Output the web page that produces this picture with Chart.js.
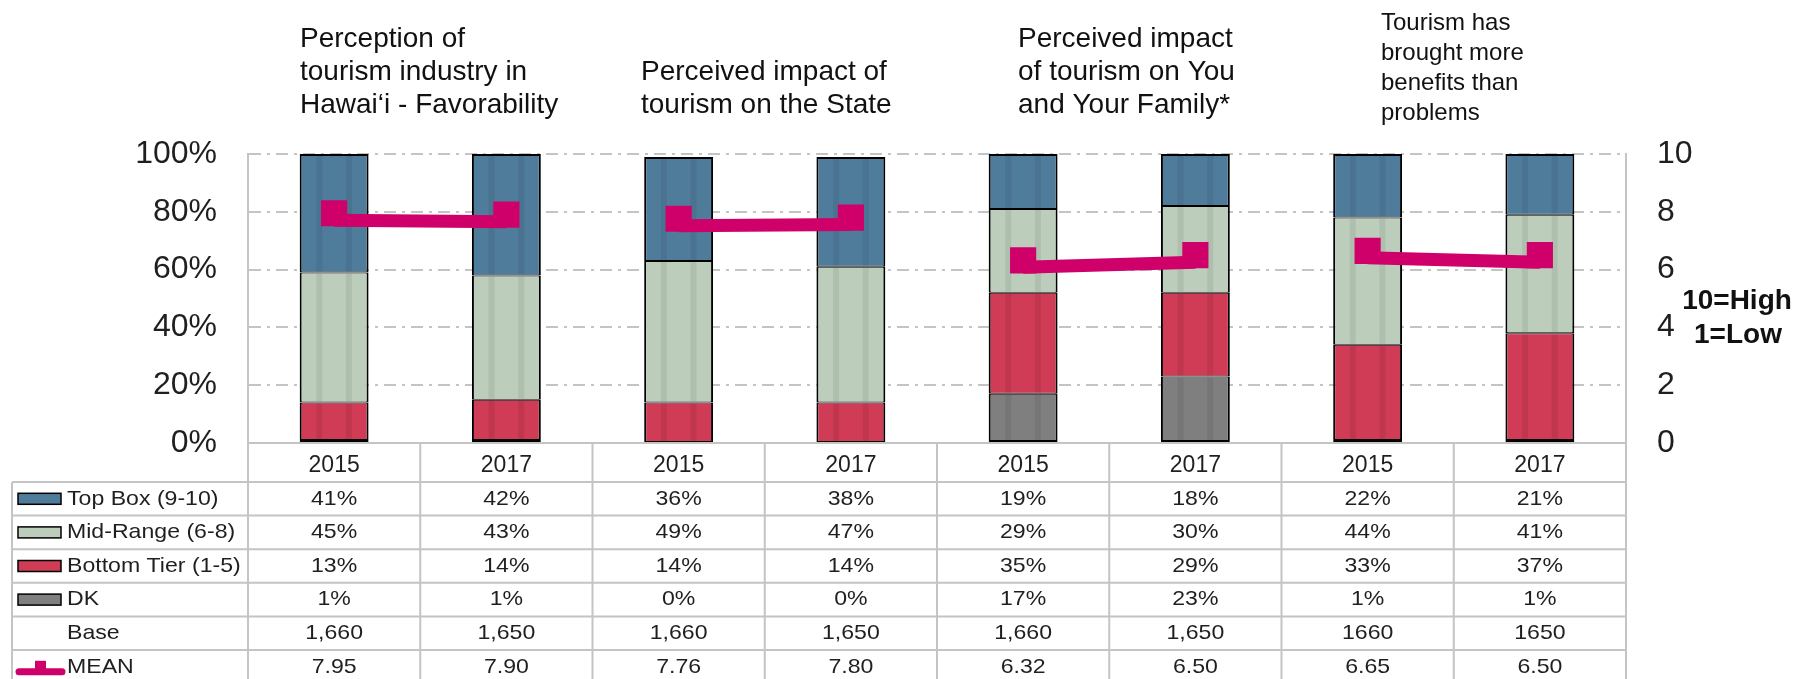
<!DOCTYPE html>
<html>
<head>
<meta charset="utf-8">
<title>Perception of tourism in Hawai'i</title>
<script src="https://cdn.jsdelivr.net/npm/chart.js@4.4.1/dist/chart.umd.min.js"></script>
<style>
  html, body { margin: 0; padding: 0; background: #fff; }
  #wrap { width: 1804px; height: 679px; }
</style>
</head>
<body>
<div id="wrap"><canvas id="tourismChart" width="1804" height="679"></canvas></div>
<script>
// categories (two survey years for each question)
const years = ['2015', '2017', '2015', '2017', '2015', '2017', '2015', '2017'];

// question titles, one per pair of bars
const questions = [
  ['Perception of', 'tourism industry in', 'Hawai\u2018i - Favorability'],
  ['Perceived impact of', 'tourism on the State'],
  ['Perceived impact', 'of tourism on You', 'and Your Family*'],
  ['Tourism has', 'brought more', 'benefits than', 'problems']
];

// shares in percent
const topBox     = [41, 42, 36, 38, 19, 18, 22, 21];
const midRange   = [45, 43, 49, 47, 29, 30, 44, 41];
const bottomTier = [13, 14, 14, 14, 35, 29, 33, 37];
const dontKnow   = [1, 1, 0, 0, 17, 23, 1, 1];

// sample sizes, as printed
const base = ['1,660', '1,650', '1,660', '1,650', '1,660', '1,650', '1660', '1650'];

// mean score on a 1-10 scale
const mean = [7.95, 7.90, 7.76, 7.80, 6.32, 6.50, 6.65, 6.50];

// axis ticks
const pctTicks = [0, 20, 40, 60, 80, 100];
const scoreTicks = [0, 2, 4, 6, 8, 10];

const FONT = "'Liberation Sans', Arial, sans-serif";
const INK = '#1f1f1f';
const GRID = '#c4c4c4';
const C_TOP = '#4f7c9b';
const C_MID = '#bccebb';
const C_BOT = '#d03b56';
const C_DK = '#7f7f7f';
const C_MEAN = '#cf006a';

// where the titles sit above the plot
const titleLayout = [
  { x: 300, y: 47, step: 33, size: 28 },
  { x: 641, y: 80, step: 33, size: 28 },
  { x: 1018, y: 47, step: 33, size: 28 },
  { x: 1381, y: 30, step: 30, size: 24 }
];

const TABLE_LEFT = 12;
const HEAD_H = 39;
const ROW_H = 33.6;
const TABLE_STRETCH = 1.1; // the table text in the original is slightly wide

function barSet(label, data, color, edge) {
  return {
    type: 'bar',
    label: label,
    data: data,
    backgroundColor: color,
    borderColor: '#000',
    borderWidth: Object.assign({ left: 2, right: 2, top: 1, bottom: 1 }, edge || {}),
    borderSkipped: false,
    yAxisID: 'y',
    stack: 'share',
    order: 10,
    barPercentage: 0.4,
    categoryPercentage: 1
  };
}

function wideText(ctx, text, x, y) {
  ctx.save();
  ctx.translate(x, y);
  ctx.scale(TABLE_STRETCH, 1);
  ctx.fillText(text, 0, 0);
  ctx.restore();
}

// faint vertical bands on every bar segment
const barStripes = {
  id: 'barStripes',
  afterDatasetDraw(chart, args) {
    const ds = chart.data.datasets[args.index];
    if (ds.type !== 'bar') return;
    const ctx = chart.ctx;
    ctx.save();
    ctx.fillStyle = 'rgba(0,0,0,0.07)';
    args.meta.data.forEach(bar => {
      const p = bar.getProps(['x', 'y', 'base', 'width'], true);
      const h = Math.abs(p.base - p.y);
      if (h < 4) return;
      const top = Math.min(p.y, p.base) + 1;
      [-0.215, 0.215].forEach(f => {
        ctx.fillRect(p.x + f * p.width - 3, top, 6, h - 2);
      });
    });
    ctx.restore();
  }
};

// the mean line sits a little below its markers in the original
const meanShift = {
  id: 'meanShift',
  beforeDatasetDraw(chart, args) {
    if (chart.data.datasets[args.index].label === 'MEAN line') {
      chart.ctx.save();
      chart.ctx.translate(0, 7);
    }
  },
  afterDatasetDraw(chart, args) {
    if (chart.data.datasets[args.index].label === 'MEAN line') chart.ctx.restore();
  }
};

// titles over each pair and the scale note on the right
const headings = {
  id: 'headings',
  afterDraw(chart) {
    const ctx = chart.ctx;
    ctx.save();
    ctx.fillStyle = '#111';
    ctx.textAlign = 'left';
    ctx.textBaseline = 'alphabetic';
    questions.forEach((lines, i) => {
      const t = titleLayout[i];
      ctx.font = t.size + 'px ' + FONT;
      lines.forEach((line, j) => ctx.fillText(line, t.x, t.y + j * t.step));
    });
    ctx.font = 'bold 28px ' + FONT;
    ctx.textAlign = 'center';
    ctx.fillText('10=High', 1737, 309);
    ctx.fillText('1=Low', 1738, 343);
    ctx.restore();
  }
};

// data table under the plot, columns taken from the x scale
const dataTable = {
  id: 'dataTable',
  afterDraw(chart) {
    const ctx = chart.ctx;
    const area = chart.chartArea;
    const x = chart.scales.x;
    const centers = years.map((_, i) => x.getPixelForValue(i));
    const rows = [
      { label: 'Top Box (9-10)', values: topBox.map(v => v + '%'), key: C_TOP },
      { label: 'Mid-Range (6-8)', values: midRange.map(v => v + '%'), key: C_MID },
      { label: 'Bottom Tier (1-5)', values: bottomTier.map(v => v + '%'), key: C_BOT },
      { label: 'DK', values: dontKnow.map(v => v + '%'), key: C_DK },
      { label: 'Base', values: base },
      { label: 'MEAN', values: mean.map(v => v.toFixed(2)), mean: true }
    ];
    const top = area.bottom;
    const headBottom = top + HEAD_H;
    const bottom = headBottom + rows.length * ROW_H;

    ctx.save();
    ctx.strokeStyle = GRID;
    ctx.lineWidth = 2;
    ctx.beginPath();
    const edges = [area.left];
    for (let i = 0; i < centers.length - 1; i++) edges.push((centers[i] + centers[i + 1]) / 2);
    edges.push(area.right);
    edges.forEach(ex => { ctx.moveTo(ex, top); ctx.lineTo(ex, bottom); });
    ctx.moveTo(TABLE_LEFT, headBottom);
    ctx.lineTo(TABLE_LEFT, bottom);
    for (let r = 0; r <= rows.length; r++) {
      const yy = headBottom + r * ROW_H;
      ctx.moveTo(TABLE_LEFT, yy);
      ctx.lineTo(area.right, yy);
    }
    ctx.stroke();

    ctx.font = '21px ' + FONT;
    ctx.textBaseline = 'middle';
    rows.forEach((row, r) => {
      const cy = headBottom + r * ROW_H + ROW_H / 2;
      ctx.fillStyle = INK;
      ctx.textAlign = 'left';
      wideText(ctx, row.label, 67, cy);
      ctx.textAlign = 'center';
      row.values.forEach((v, i) => wideText(ctx, v, centers[i], cy));

      if (row.key) {
        ctx.fillStyle = row.key;
        ctx.fillRect(18, cy - 5.5, 43, 11);
        ctx.strokeStyle = '#000';
        ctx.lineWidth = 1.5;
        ctx.strokeRect(18, cy - 5.5, 43, 11);
      }
      if (row.mean) {
        ctx.strokeStyle = C_MEAN;
        ctx.lineWidth = 7;
        ctx.lineCap = 'round';
        ctx.beginPath();
        ctx.moveTo(19, cy + 5);
        ctx.lineTo(62, cy + 5);
        ctx.stroke();
        ctx.fillStyle = C_MEAN;
        ctx.fillRect(35, cy - 6, 11, 12);
      }
    });
    ctx.restore();
  }
};

const ctx = document.getElementById('tourismChart').getContext('2d');

new Chart(ctx, {
  data: {
    labels: years,
    datasets: [
      barSet('DK', dontKnow, C_DK, { bottom: 2 }),
      barSet('Bottom Tier (1-5)', bottomTier, C_BOT),
      barSet('Mid-Range (6-8)', midRange, C_MID),
      barSet('Top Box (9-10)', topBox, C_TOP, { top: 2 }),
      {
        type: 'line',
        label: 'MEAN line',
        data: mean,
        yAxisID: 'y1',
        borderColor: C_MEAN,
        borderWidth: 13,
        pointRadius: 0,
        fill: false,
        tension: 0,
        order: 2,
        // only join the two years of the same question
        segment: { borderColor: c => (c.p0DataIndex % 2 ? 'transparent' : C_MEAN) }
      },
      {
        type: 'line',
        label: 'MEAN',
        data: mean,
        yAxisID: 'y1',
        showLine: false,
        pointStyle: 'rect',
        pointRadius: 18.5,
        pointBorderWidth: 0,
        pointBackgroundColor: C_MEAN,
        order: 1
      }
    ]
  },
  options: {
    responsive: false,
    animation: false,
    layout: { padding: { top: 154, left: 0, right: 0, bottom: 0 } },
    plugins: {
      legend: { display: false },
      tooltip: { enabled: false }
    },
    scales: {
      x: {
        stacked: true,
        grid: { display: false },
        border: { display: true, color: GRID, width: 2 },
        ticks: { color: INK, font: { family: FONT, size: 23 }, padding: 1, autoSkip: false, maxRotation: 0 },
        afterFit: s => { s.height = 236; }
      },
      y: {
        stacked: true,
        position: 'left',
        min: 0,
        max: 100,
        afterBuildTicks: s => { s.ticks = pctTicks.map(v => ({ value: v })); },
        ticks: { callback: v => v + '%', color: INK, font: { family: FONT, size: 32 }, padding: 31 },
        grid: { color: GRID, lineWidth: 2, drawTicks: false },
        border: { display: true, color: GRID, width: 2, dash: [12, 6, 3, 6] },
        afterFit: s => { s.width = 248; }
      },
      y1: {
        position: 'right',
        min: 0,
        max: 10,
        afterBuildTicks: s => { s.ticks = scoreTicks.map(v => ({ value: v })); },
        ticks: { color: INK, font: { family: FONT, size: 32 }, padding: 31 },
        grid: { display: false, drawTicks: false },
        border: { display: true, color: GRID, width: 2 },
        afterFit: s => { s.width = 178; }
      }
    }
  },
  plugins: [barStripes, meanShift, headings, dataTable]
});
</script>
</body>
</html>
